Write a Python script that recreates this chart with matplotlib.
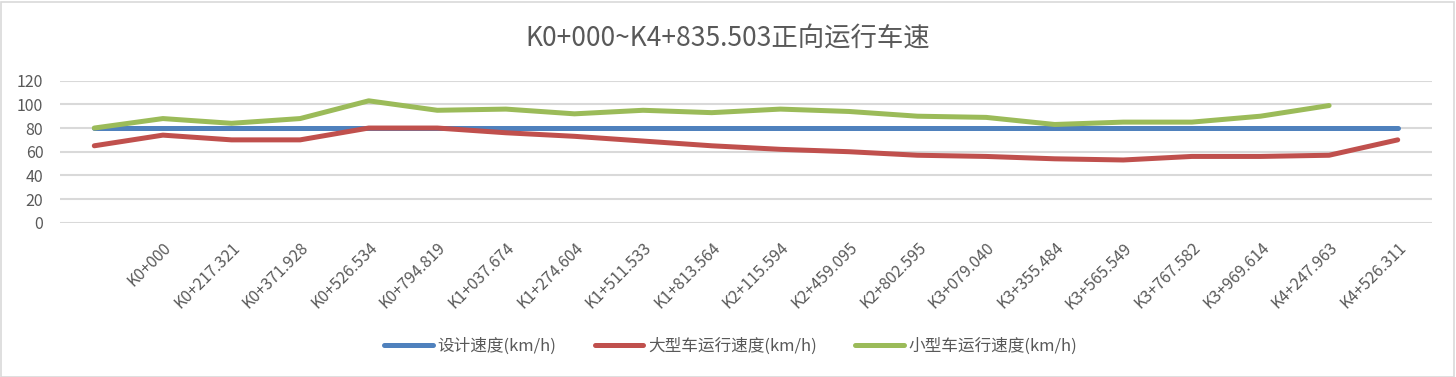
import matplotlib
matplotlib.use("Agg")
import matplotlib.pyplot as plt
from matplotlib.patches import Rectangle

plt.rcParams['font.family'] = ['Noto Sans CJK SC', 'DejaVu Sans']

title = "K0+000~K4+835.503正向运行车速"
categories = ["", "K0+000", "K0+217.321", "K0+371.928", "K0+526.534", "K0+794.819",
              "K1+037.674", "K1+274.604", "K1+511.533", "K1+813.564", "K2+115.594",
              "K2+459.095", "K2+802.595", "K3+079.040", "K3+355.484", "K3+565.549",
              "K3+767.582", "K3+969.614", "K4+247.963", "K4+526.311"]
design_speed = [80] * 20
large_speed = [65, 74, 70, 70, 80, 80, 76, 73, 69, 65, 62, 60, 57, 56, 54, 53, 56, 56, 57, 70]
small_speed = [80, 88, 84, 88, 103, 95, 96, 92, 95, 93, 96, 94, 90, 89, 83, 85, 85, 90, 99]
series_names = ["设计速度(km/h)", "大型车运行速度(km/h)", "小型车运行速度(km/h)"]
colors = ["#4f81bd", "#c0504d", "#9bbb59"]
y_ticks = [0, 20, 40, 60, 80, 100, 120]

W, H = 1456, 377
fig = plt.figure(figsize=(W / 100, H / 100), dpi=100)
fig.patches.append(Rectangle((0.5 / W, 0.5 / H), 1 - 2.5 / W, 1 - 2 / H, transform=fig.transFigure,
                             fill=False, edgecolor="#d9d9d9", linewidth=1.2))

ax = fig.add_axes([60 / W, 1 - 222.7 / H, (1432 - 60) / W, (222.7 - 80.7) / H])
x = list(range(len(categories)))
for vals, name, c in zip([design_speed, large_speed, small_speed], series_names, colors):
    ax.plot(x[:len(vals)], vals, color=c, linewidth=3.6, solid_capstyle="round",
            solid_joinstyle="round", label=name, zorder=3)

ax.set_xlim(-0.5, len(categories) - 0.5)
ax.set_ylim(0, 120)
ax.set_yticks(y_ticks)
ax.yaxis.grid(True, color="#d9d9d9", linewidth=1.5)
ax.set_axisbelow(True)
for s in ax.spines.values():
    s.set_visible(False)
ax.tick_params(axis="both", length=0, colors="#595959", labelsize=11.5)
ax.tick_params(axis="y", pad=12)
ax.set_xticks(x)
ax.set_xticklabels(categories, rotation=45, ha="right", rotation_mode="anchor", fontsize=11.5)
ax.tick_params(axis="x", pad=12)

fig.text(0.5, 1 - 38 / H, title, ha="center", va="center", fontsize=19, color="#595959")

leg = fig.legend(loc="center", bbox_to_anchor=(0.502, 1 - 346.5 / H), ncol=3, frameon=False,
                 fontsize=12, handlelength=2.9, columnspacing=2.3, handletextpad=0.3)
for t in leg.get_texts():
    t.set_color("#595959")

fig.savefig("out.png", dpi=100)
